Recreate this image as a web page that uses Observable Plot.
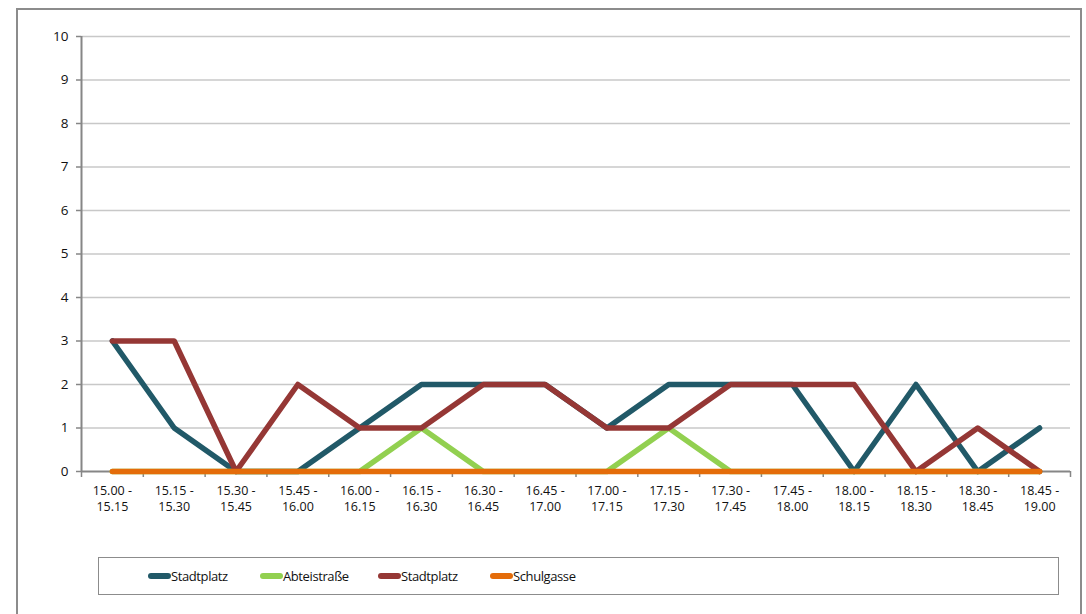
<!DOCTYPE html>
<html>
<head>
<meta charset="utf-8">
<script src="https://cdn.jsdelivr.net/npm/d3@7"></script>
<script src="https://cdn.jsdelivr.net/npm/@observablehq/plot@0.6"></script>
<style>
  html, body { margin: 0; padding: 0; background: #fff; }
  #wrap { position: relative; width: 1086px; height: 614px; overflow: hidden; font-family: "Open Sans", "Noto Sans", sans-serif; }
  #frame { position: absolute; left: 16px; top: 8px; width: 1066px; height: 620px; border: 2px solid #8c8c8c; box-sizing: border-box; }
  #chart { position: absolute; left: 0; top: 0; }
  #legend { position: absolute; left: 98px; top: 557px; width: 961px; height: 38px; border: 1.5px solid #8c8c8c; box-sizing: border-box; }
  .item { position: absolute; top: 0; height: 100%; display: flex; align-items: center; font-size: 13px; color: #111; letter-spacing: -0.4px; }
  .sw { width: 23px; height: 6px; border-radius: 3px; margin-right: 0px; }
</style>
</head>
<body>
<div id="wrap">
  <div id="frame"></div>
  <div id="chart"></div>
  <div id="legend"></div>
</div>
<script>
const categories = ["15.00 -\n15.15","15.15 -\n15.30","15.30 -\n15.45","15.45 -\n16.00","16.00 -\n16.15","16.15 -\n16.30","16.30 -\n16.45","16.45 -\n17.00","17.00 -\n17.15","17.15 -\n17.30","17.30 -\n17.45","17.45 -\n18.00","18.00 -\n18.15","18.15 -\n18.30","18.30 -\n18.45","18.45 -\n19.00"];
const seriesNames = ["Stadtplatz", "Abteistraße", "Stadtplatz ", "Schulgasse"];
const legendLabels = ["Stadtplatz", "Abteistraße", "Stadtplatz", "Schulgasse"];
const seriesColors = ["#215968", "#92D050", "#953735", "#E46C0A"];
const stadtplatz1 = [3,1,0,0,1,2,2,2,1,2,2,2,0,2,0,1];
const abteistrasse = [0,0,0,0,0,1,0,0,0,1,0,0,0,0,0,0];
const stadtplatz2 = [3,3,0,2,1,1,2,2,1,1,2,2,2,0,1,0];
const schulgasse = [0,0,0,0,0,0,0,0,0,0,0,0,0,0,0,0];
const yTicks = [0,1,2,3,4,5,6,7,8,9,10];

const seriesValues = [stadtplatz1, abteistrasse, stadtplatz2, schulgasse];
const data = [];
seriesValues.forEach((vals, s) => vals.forEach((v, i) => data.push({series: seriesNames[s], cat: categories[i], value: v})));

const W = 1086, H = 540, mL = 81, mR = 16, mT = 36, mB = 69;
const step = (W - mL - mR) / categories.length;
const tickLen = 6 * 10 / (H - mT - mB); // 6px expressed in y units

const plot = Plot.plot({
  width: W, height: H,
  marginLeft: mL, marginRight: mR, marginTop: mT, marginBottom: mB,
  style: { fontFamily: "'Open Sans', 'Noto Sans', sans-serif", fontSize: "12px", color: "#111", background: "transparent" },
  x: { type: "point", domain: categories, padding: 0.5, align: 0.5, round: false, label: null },
  y: { type: "linear", domain: [0, 10], label: null },
  color: { domain: seriesNames, range: seriesColors },
  marks: [
    Plot.ruleY(yTicks.filter(d => d > 0), { stroke: "#c8c8c8", strokeWidth: 1.5 }),
    Plot.axisY({ ticks: yTicks, tickSize: 5, tickPadding: 8, stroke: "#868686", strokeWidth: 1.5, fontSize: 13.5 }),
    Plot.ruleX([categories[0]], { dx: -step / 2, y1: 0, y2: 10, stroke: "#868686", strokeWidth: 2 }),
    Plot.ruleX(categories, { dx: -step / 2, y1: 0, y2: -tickLen, stroke: "#868686", strokeWidth: 1.5 }),
    Plot.ruleX([categories[categories.length - 1]], { dx: step / 2, y1: 0, y2: -tickLen, stroke: "#868686", strokeWidth: 1.5 }),
    Plot.axisX({ tickSize: 0, tickPadding: 12, fontSize: 12.5, lineHeight: 1.3 }),
    Plot.ruleY([0], { stroke: "#868686", strokeWidth: 2 }),
    Plot.line(data, { x: "cat", y: "value", z: "series", stroke: "series", strokeWidth: 5.5, strokeLinejoin: "round", strokeLinecap: "round" })
  ]
});
document.getElementById("chart").appendChild(plot);

const legend = document.getElementById("legend");
const lefts = [49, 161, 279, 391];
legendLabels.forEach((name, i) => {
  const it = document.createElement("div");
  it.className = "item";
  it.style.left = lefts[i] + "px";
  it.innerHTML = `<span class="sw" style="background:${seriesColors[i]}"></span><span>${name}</span>`;
  legend.appendChild(it);
});
</script>
</body>
</html>
